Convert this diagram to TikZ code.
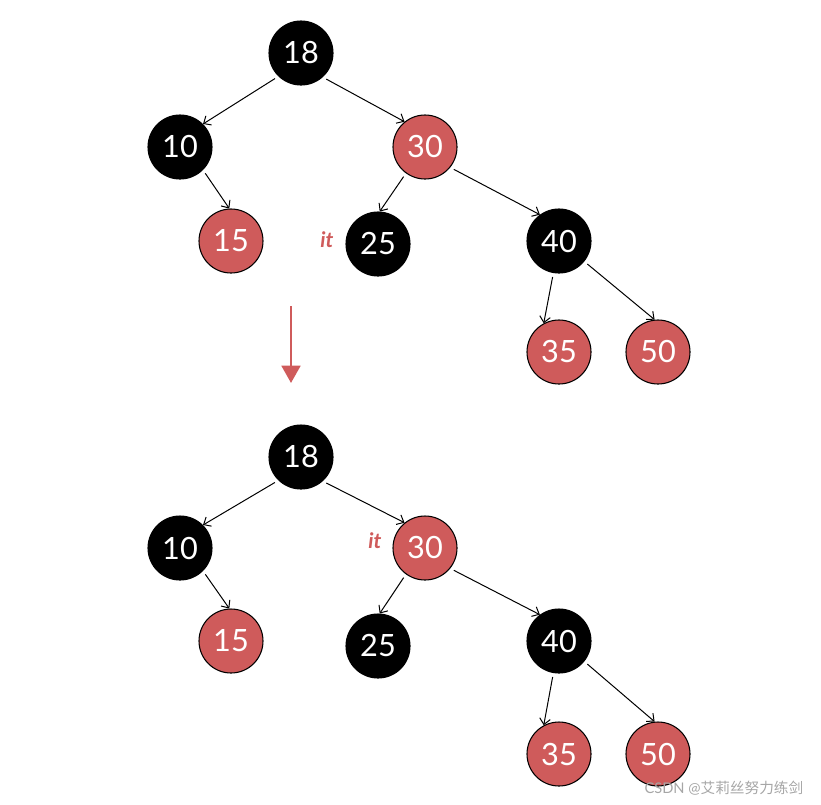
\documentclass[tikz,border=0pt]{standalone}
\usepackage{fontspec}
\setmainfont{Lato}
\newfontfamily\cjkfont{Noto Sans CJK SC}
\usetikzlibrary{arrows.meta}
\definecolor{rbred}{RGB}{207,91,91}
\tikzset{
  blk/.style={circle, fill=black, draw=black, line width=0.8pt, text=white, minimum size=48pt, inner sep=0pt, font=\fontsize{23}{23}\selectfont},
  rd/.style={blk, fill=rbred},
  edge/.style={-{Straight Barb[length=4.5pt, width=8pt]}, line width=0.75pt, shorten <=3pt},
  itlabel/.style={text=rbred, font=\bfseries\itshape\fontsize{16}{16}\selectfont}
}
\begin{document}
\begin{tikzpicture}[x=0.75pt, y=-0.75pt]
    \useasboundingbox (0,0) rectangle (821,804);

    %top tree
    \node[blk] (t18) at (301,53) {18};
    \node[blk] (t10) at (180,147) {10};
    \node[rd]  (t30) at (425,147) {30};
    \node[rd]  (t15) at (231,241) {15};
    \node[blk] (t25) at (378,244) {25};
    \node[blk] (t40) at (559,241) {40};
    \node[rd]  (t35) at (559,352) {35};
    \node[rd]  (t50) at (658,352) {50};
    \node[itlabel] (tit) at (327,240) {it};

    \draw[edge] (t18.226) -- (t10.45);
    \draw[edge] (t18.312) -- (t30.129);
    \draw[edge] (t10.315) -- (t15.93);
    \draw[edge] (t30.234) -- (t25.87);
    \draw[edge] (t30.321) -- (t40.126);
    \draw[edge] (t40.260) -- (t35.118);
    \draw[edge] (t40.321) -- (t50.96);

    %step arrow
    \coordinate (s1) at (291,306);
    \coordinate (s2) at (291,383);
    \draw[rbred, line width=2.2pt, -{Triangle[width=14pt, length=13pt]}] (s1) -- (s2);

    %bottom tree
    \node[blk] (b18) at (301,457) {18};
    \node[blk] (b10) at (180,548) {10};
    \node[rd]  (b30) at (425,548) {30};
    \node[rd]  (b15) at (231,641) {15};
    \node[blk] (b25) at (378,646) {25};
    \node[blk] (b40) at (559,641) {40};
    \node[rd]  (b35) at (559,754) {35};
    \node[rd]  (b50) at (658,754) {50};
    \node[itlabel] (bit) at (375,541) {it};

    \draw[edge] (b18.226) -- (b10.45);
    \draw[edge] (b18.312) -- (b30.129);
    \draw[edge] (b10.315) -- (b15.93);
    \draw[edge] (b30.234) -- (b25.87);
    \draw[edge] (b30.321) -- (b40.126);
    \draw[edge] (b40.260) -- (b35.118);
    \draw[edge] (b40.321) -- (b50.96);

    %watermark
    \node[text=black!35, font=\fontsize{11}{11}\selectfont, anchor=east] (wm) at (808,788) {CSDN @{\cjkfont 艾莉丝努力练剑}};
\end{tikzpicture}
\end{document}
